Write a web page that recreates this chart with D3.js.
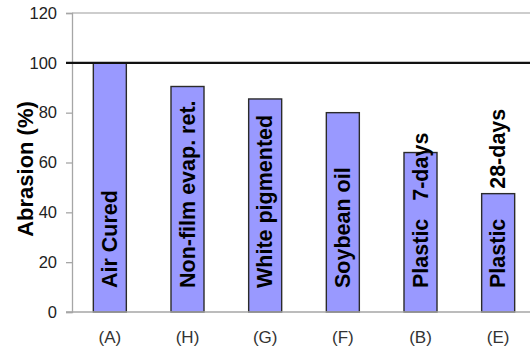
<!DOCTYPE html>
<html>
<head>
<meta charset="utf-8">
<script src="https://cdn.jsdelivr.net/npm/d3@7"></script>
<style>
  html, body { margin: 0; padding: 0; background: #fff; }
  svg { display: block; font-family: "Liberation Sans", Arial, sans-serif; }
</style>
</head>
<body>
<svg id="chart" width="530" height="354"></svg>
<script>
// ---- data ----
const codes = ["(A)", "(H)", "(G)", "(F)", "(B)", "(E)"];
const names = ["Air Cured", "Non-film evap. ret.", "White pigmented", "Soybean oil", "Plastic   7-days", "Plastic     28-days"];
const values = [100, 90.5, 85.5, 80, 64, 47.5];
const yTicks = [0, 20, 40, 60, 80, 100, 120];
const refValue = 100;
const yTitle = "Abrasion (%)";

// ---- layout ----
const svg = d3.select("#chart");
const x = d3.scaleBand().domain(codes).range([71, 537]).paddingInner(0.575).paddingOuter(0.2875);
const y = d3.scaleLinear().domain([0, 120]).range([312, 13]);
const left = 72;

// top gridline at 120
svg.append("line")
  .attr("x1", left).attr("x2", 530)
  .attr("y1", y(120)).attr("y2", y(120))
  .attr("stroke", "#bdbdbd").attr("stroke-width", 1.5);

// y axis
const yAxis = d3.axisLeft(y).tickValues(yTicks).tickSize(6).tickPadding(9).tickFormat(d3.format("d"));
const gy = svg.append("g").attr("transform", `translate(${left},0)`).call(yAxis);
gy.select(".domain").attr("stroke", "#a6a6a6").attr("stroke-width", 1.3);
gy.selectAll(".tick line").attr("stroke", "#a6a6a6").attr("stroke-width", 1.3);
gy.selectAll(".tick text")
  .attr("font-family", "Liberation Sans, Arial, sans-serif")
  .attr("font-size", 16.5).attr("fill", "#222");

// bars
svg.append("g").selectAll("rect")
  .data(values)
  .join("rect")
  .attr("x", (d, i) => x(codes[i]))
  .attr("y", d => y(d))
  .attr("width", x.bandwidth())
  .attr("height", d => y(0) - y(d))
  .attr("fill", "#9999ff")
  .attr("stroke", "#2b2b2b")
  .attr("stroke-width", 1.4);

// x axis (bottom)
const xAxis = d3.axisBottom(x).tickSize(0).tickPadding(19);
const gx = svg.append("g").attr("transform", `translate(0,${y(0)})`).call(xAxis);
gx.select(".domain").remove();
gx.selectAll(".tick text")
  .attr("font-family", "Liberation Sans, Arial, sans-serif")
  .attr("font-size", 17).attr("fill", "#333");
svg.append("line")
  .attr("x1", 66).attr("x2", 530)
  .attr("y1", y(0)).attr("y2", y(0))
  .attr("stroke", "#a6a6a6").attr("stroke-width", 1.3);

// reference line at 100
svg.append("line")
  .attr("x1", 66).attr("x2", 530)
  .attr("y1", y(refValue)).attr("y2", y(refValue))
  .attr("stroke", "#111").attr("stroke-width", 2.2);

// bar labels (rotated)
svg.append("g").selectAll("text")
  .data(names)
  .join("text")
  .attr("transform", (d, i) => `translate(${x(codes[i]) + x.bandwidth() / 2},${y(0) - 24}) rotate(-90)`)
  .attr("dy", "0.34em")
  .attr("text-anchor", "start")
  .attr("font-size", 21.5)
  .attr("font-weight", "bold")
  .attr("fill", "#000")
  .style("white-space", "pre")
  .text(d => d);

// y axis title
svg.append("text")
  .attr("transform", `translate(33,169) rotate(-90)`)
  .attr("text-anchor", "middle")
  .attr("font-size", 22)
  .attr("font-weight", "bold")
  .attr("fill", "#000")
  .text(yTitle);
</script>
</body>
</html>
